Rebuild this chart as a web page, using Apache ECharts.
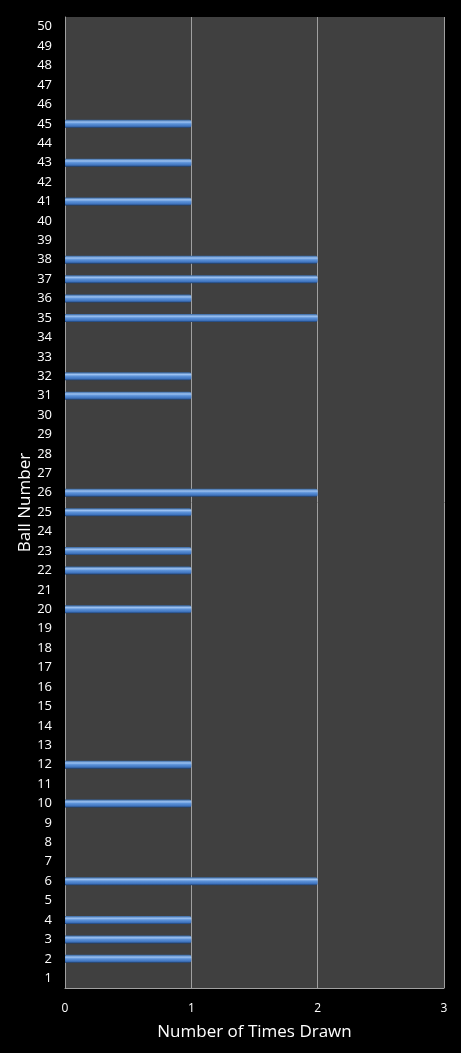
<!DOCTYPE html>
<html>
<head>
<meta charset="utf-8">
<script src="https://cdn.jsdelivr.net/npm/echarts@6/dist/echarts.min.js"></script>
<style>
  html, body { margin: 0; padding: 0; background: #000; }
  #chart { width: 461px; height: 1053px; }
</style>
</head>
<body>
<div id="chart"></div>
<script>
// ball numbers 1..50
var ballNumbers = [];
for (var i = 1; i <= 50; i++) ballNumbers.push(String(i));

// times drawn
var drawnBalls = [2, 3, 4, 6, 10, 12, 20, 22, 23, 25, 26, 31, 32, 35, 36, 37, 38, 41, 43, 45];
var drawnTimes = [1, 1, 1, 2, 1, 1, 1, 1, 1, 1, 2, 1, 1, 2, 1, 2, 2, 1, 1, 1];

var xTicks = [0, 1, 2, 3];

var timesData = ballNumbers.map(function (b) {
    var idx = drawnBalls.indexOf(Number(b));
    return idx >= 0 ? drawnTimes[idx] : 0;
});

var myChart = echarts.init(document.getElementById('chart'));
var option = {
    backgroundColor: '#000',
    textStyle: { fontFamily: 'Open Sans' },
    grid: {
        left: 65,
        right: 17,
        top: 17,
        bottom: 65,
        show: true,
        backgroundColor: '#404040',
        borderWidth: 0
    },
    xAxis: {
        type: 'value',
        min: xTicks[0],
        max: xTicks[xTicks.length - 1],
        interval: 1,
        name: 'Number of Times Drawn',
        nameLocation: 'middle',
        nameGap: 36,
        nameMoveOverlap: false,
        nameTextStyle: { color: '#fff', fontSize: 17 },
        axisLine: { show: true, lineStyle: { color: '#a0a0a0', width: 1 } },
        axisTick: { show: false },
        axisLabel: { color: '#fff', fontSize: 12, margin: 15 },
        splitLine: { show: true, lineStyle: { color: '#a0a0a0', width: 1 } }
    },
    yAxis: {
        type: 'category',
        data: ballNumbers,
        name: 'Ball Number',
        nameLocation: 'middle',
        nameGap: 31,
        nameMoveOverlap: false,
        nameRotate: 90,
        nameTextStyle: { color: '#fff', fontSize: 17 },
        axisLine: { show: true, lineStyle: { color: '#a0a0a0', width: 1 } },
        axisTick: { show: false },
        axisLabel: { color: '#fff', fontSize: 13, margin: 13, interval: 0 },
        splitLine: { show: false }
    },
    series: [{
        type: 'bar',
        data: timesData,
        barWidth: 8,
        itemStyle: {
            color: new echarts.graphic.LinearGradient(0, 0, 0, 1, [
                { offset: 0, color: '#34649f' },
                { offset: 0.28, color: '#9cc2f2' },
                { offset: 0.5, color: '#5c92d8' },
                { offset: 0.8, color: '#3f74bf' },
                { offset: 1, color: '#1e3f6e' }
            ]),
            borderRadius: [0, 2, 2, 0]
        },
        silent: true
    }]
};
myChart.setOption(option);
window.onresize = myChart.resize;
</script>
</body>
</html>
